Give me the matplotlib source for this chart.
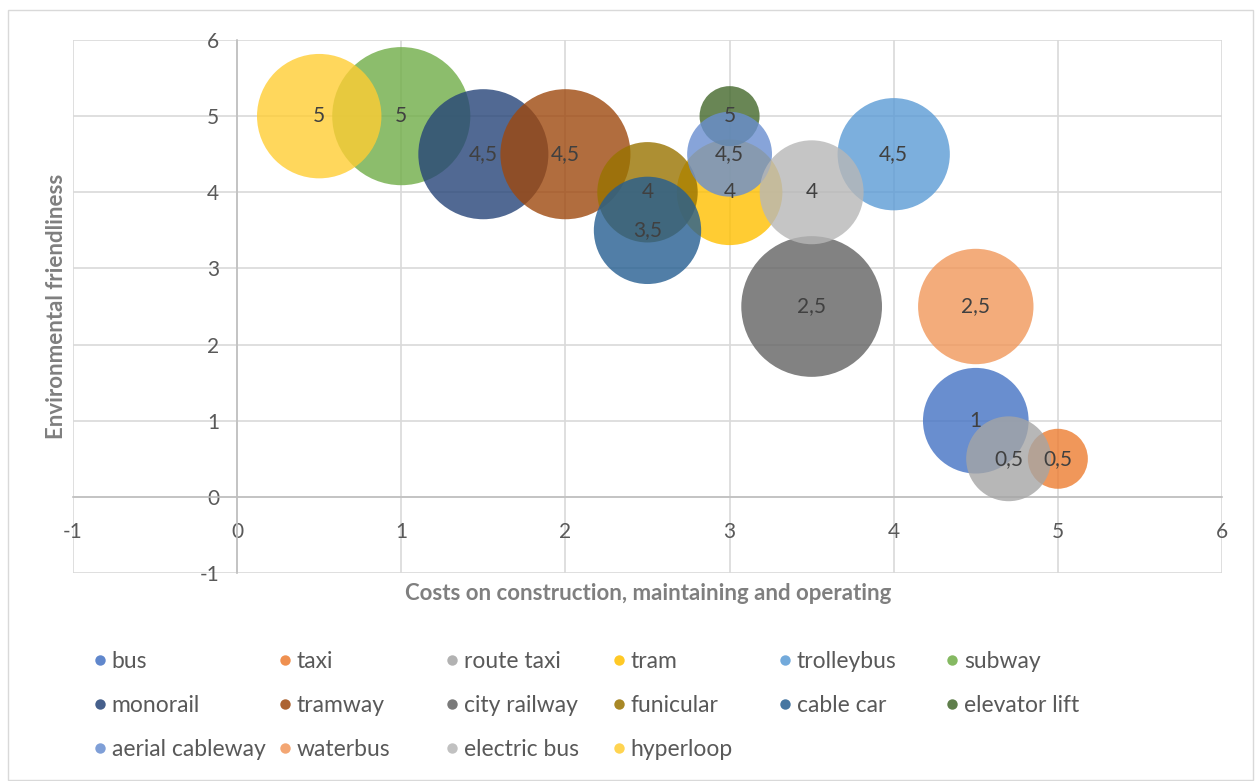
import matplotlib
matplotlib.use("Agg")
import matplotlib.pyplot as plt
from matplotlib.lines import Line2D
from matplotlib.patches import Rectangle

plt.rcParams['font.family'] = ['Lato', 'DejaVu Sans']
plt.rcParams['axes.unicode_minus'] = False

names = ['bus', 'taxi', 'route taxi', 'tram', 'trolleybus', 'subway',
         'monorail', 'tramway', 'city railway', 'funicular', 'cable car', 'elevator lift',
         'aerial cableway', 'waterbus', 'electric bus', 'hyperloop']
costs = [4.5, 5, 4.7, 3, 4, 1,
         1.5, 2, 3.5, 2.5, 2.5, 3,
         3, 4.5, 3.5, 0.5]
eco = [1, 0.5, 0.5, 4, 4.5, 5,
       4.5, 4.5, 2.5, 4, 3.5, 5,
       4.5, 2.5, 4, 5]
bubble = [3.1, 1, 2, 3.1, 3.5, 5.3,
          4.7, 4.7, 5.5, 2.8, 3.2, 1,
          2, 3.7, 3, 4.3]
colors = ['#4472C4', '#ED7D31', '#A5A5A5', '#FFC000', '#5B9BD5', '#70AD47',
          '#264478', '#9E480E', '#636363', '#997300', '#255E91', '#43682B',
          '#698ED0', '#F1975A', '#B7B7B7', '#FFCD33']

fig = plt.figure(figsize=(12.55, 7.81), dpi=100)
ax = fig.add_axes([73 / 1255, 1 - 573 / 781, (1222 - 73) / 1255, (573 - 40) / 781])

# chart border
fig.patches.append(Rectangle((8 / 1255, 1 / 781), 1245 / 1255, 770 / 781,
                             transform=fig.transFigure, fill=False,
                             edgecolor='#D9D9D9', linewidth=1))

scale = 1866  # points^2 per unit of bubble size
handles = []
for n, x, y, b, c in zip(names, costs, eco, bubble, colors):
    ax.scatter(x, y, s=b * scale, color=c, alpha=0.8, edgecolors='none', zorder=3)
    lbl = ('%g' % y).replace('.', ',')
    ax.text(x, y, lbl, ha='center', va='center', fontsize=15, color='#404040', zorder=4)
    handles.append(Line2D([], [], marker='o', linestyle='none', markersize=7.5,
                          markerfacecolor=c, markeredgecolor='none', label=n, alpha=0.85))

ax.set_xlim(-1, 6)
ax.set_ylim(-1, 6)
ax.set_xticks(range(-1, 7))
ax.set_yticks(range(-1, 7))
ax.grid(True, color='#D9D9D9', linewidth=1.2, zorder=0)
ax.set_axisbelow(True)

for side in ['top', 'right']:
    ax.spines[side].set_visible(False)
ax.spines['left'].set_position(('data', 0))
ax.spines['bottom'].set_position(('data', 0))
for side in ['left', 'bottom']:
    ax.spines[side].set_color('#BFBFBF')
    ax.spines[side].set_linewidth(1.2)
ax.tick_params(axis='both', length=0, labelsize=15, labelcolor='#595959')
ax.tick_params(axis='x', pad=18)
ax.tick_params(axis='y', pad=13)

fig.text(57 / 1255, 1 - 306 / 781, 'Environmental friendliness', rotation=90,
         ha='center', va='center', fontsize=16, fontweight='bold', color='#7F7F7F')
fig.text(648 / 1255, 1 - 594 / 781, 'Costs on construction, maintaining and operating',
         ha='center', va='center', fontsize=16, fontweight='bold', color='#7F7F7F')

# legend: one column per group, laid out in a 6-column grid
col_x = [90, 275, 442, 609, 775, 942]
for i, cx in enumerate(col_x):
    fig.legend(handles=handles[i::6], loc='upper left',
               bbox_to_anchor=(cx / 1255, 1 - 651 / 781), frameon=False,
               fontsize=16.5, labelcolor='#595959', handletextpad=0.05,
               handlelength=0.9, labelspacing=1.0, borderpad=0, borderaxespad=0)

fig.savefig('out.png', dpi=100)
